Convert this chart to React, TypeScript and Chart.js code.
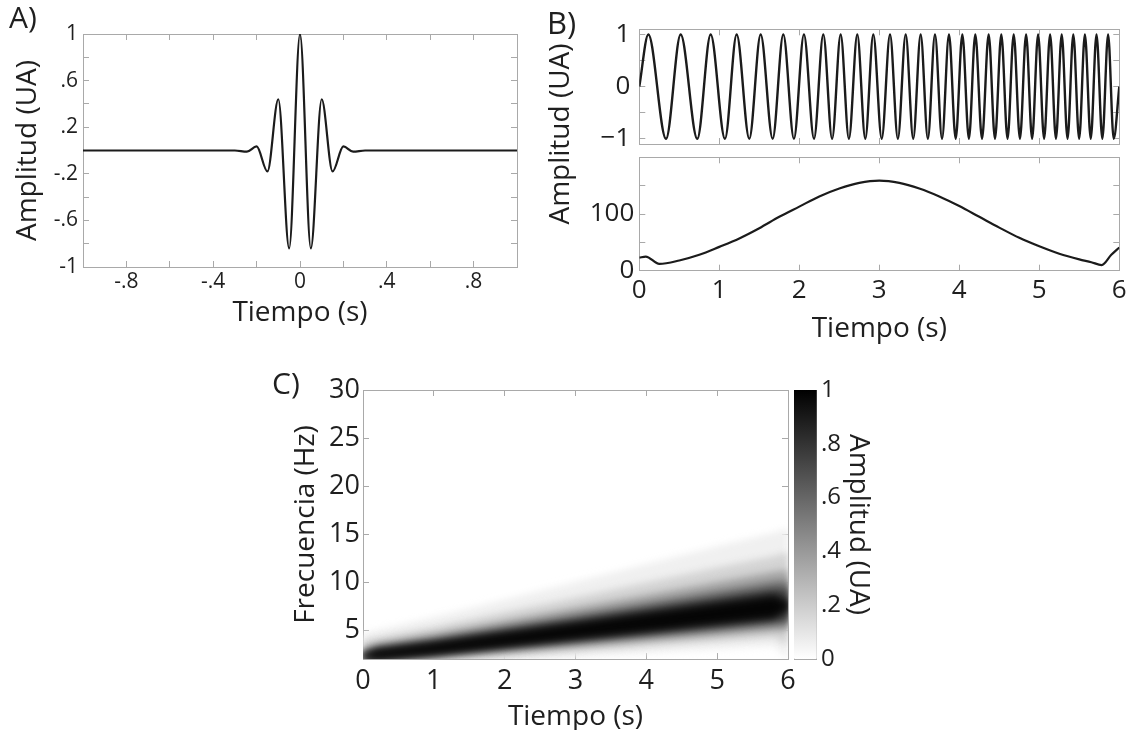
import React, { useEffect, useRef } from "react";
import { Chart, registerables } from "chart.js";

Chart.register(...registerables);

const FONT = "'Open Sans', 'DejaVu Sans', sans-serif";
const FRAME = "#a9a9a9";
const INK = "#1b1b1b";
const TEXT = "#1f1f1f";

/* ---------- Panel A : wavelet ---------- */
const waveletTime = [-1, -0.3, -0.245, -0.2, -0.15, -0.1, -0.05, 0, 0.05, 0.1, 0.15, 0.2, 0.245, 0.3, 1];
const waveletAmp = [0, 0, -0.01, 0.035, -0.18, 0.44, -0.84, 1, -0.84, 0.44, -0.18, 0.035, -0.01, 0, 0];
const aXTicks = [-1, -0.8, -0.6, -0.4, -0.2, 0, 0.2, 0.4, 0.6, 0.8, 1];
const aXLabels = ["", "-.8", "", "-.4", "", "0", "", ".4", "", ".8", ""];
const aYTicks = [-1, -0.8, -0.6, -0.4, -0.2, 0, 0.2, 0.4, 0.6, 0.8, 1];
const aYLabels = ["-1", "", "-.6", "", "-.2", "", ".2", "", ".6", "", "1"];

/* ---------- Panel B : chirp and its amplitude ---------- */
const bTimeTicks = [0, 1, 2, 3, 4, 5, 6];
const bTimeLabels = ["0", "1", "2", "3", "4", "5", "6"];
const chirpPeakTimes = [0.113, 0.517, 0.892, 1.217, 1.517, 1.8, 2.058, 2.3, 2.517, 2.725, 2.925, 3.134, 3.33, 3.517, 3.696, 3.871, 4.038, 4.2, 4.367, 4.525, 4.68, 4.835, 4.985, 5.135, 5.28, 5.425, 5.57, 5.715, 5.86];
const chirpTroughTimes = [0.334, 0.725, 1.071, 1.375, 1.667, 1.933, 2.184, 2.41, 2.62, 2.825, 3.03, 3.232, 3.424, 3.607, 3.784, 3.955, 4.12, 4.284, 4.446, 4.603, 4.758, 4.91, 5.06, 5.208, 5.353, 5.498, 5.643, 5.788, 5.93];
const chirpPeakValue = 1;
const chirpTroughValue = -1;
const chirpStart = { t: 0, v: 0 };
const chirpEnd = { t: 6, v: 0 };
const bTopYTicks = [-1, -0.5, 0, 0.5, 1];
const bTopYLabels = ["\u22121", "", "0", "", "1"];

const envTime = [0, 0.08, 0.25, 0.5, 0.75, 1, 1.25, 1.5, 1.75, 2, 2.25, 2.5, 2.75, 3, 3.25, 3.5, 3.75, 4, 4.25, 4.5, 4.75, 5, 5.25, 5.5, 5.65, 5.78, 5.9, 6];
const envAmp = [23, 25, 12, 18, 28, 42, 57, 75, 95, 113, 131, 145, 155, 159, 155, 145, 131, 114, 95, 76, 58, 43, 30, 20, 15, 10, 28, 41];
const bBotYTicks = [0, 50, 100, 150, 200];
const bBotYLabels = ["0", "", "100", "", ""];

/* ---------- Panel C : time-frequency map ---------- */
const cTimeTicks = [0, 1, 2, 3, 4, 5, 6];
const cTimeLabels = ["0", "1", "2", "3", "4", "5", "6"];
const cFreqTicks = [5, 10, 15, 20, 25, 30];
const cFreqLabels = ["5", "10", "15", "20", "25", "30"];
const bandTimes = [0, 0.2, 1, 2, 3, 4, 5, 5.8, 6];
// amplitude shade of each band (0 = white, 1 = black)
const bandShade = [0.98, 0.9, 0.75, 0.55, 0.35, 0.17, 0.06];
// upper / lower frequency limit (Hz) of the region above each amplitude level
const bandHi95 = [2.25, 2.74, 3.47, 4.48, 5.49, 6.5, 7.5, 8.29, 7.6];
const bandLo95 = [2.25, 2.16, 2.73, 3.52, 4.31, 5.1, 5.9, 6.51, 7.6];
const bandHi85 = [2.35, 2.89, 3.66, 4.72, 5.78, 6.84, 7.91, 8.73, 8.2];
const bandLo85 = [2.15, 2.06, 2.6, 3.36, 4.12, 4.87, 5.63, 6.22, 6.9];
const bandHi65 = [2.5, 3.09, 3.91, 5.04, 6.17, 7.31, 8.44, 9.32, 9.3];
const bandLo65 = [2.0, 1.94, 2.45, 3.16, 3.87, 4.58, 5.29, 5.85, 6.0];
const bandHi45 = [2.8, 3.33, 4.22, 5.44, 6.66, 7.89, 9.11, 10.06, 10.2];
const bandLo45 = [1.8, 1.79, 2.26, 2.92, 3.58, 4.23, 4.89, 5.4, 5.5];
const bandHi25 = [3.2, 3.68, 4.65, 6.0, 7.35, 8.7, 10.05, 11.1, 11.3];
const bandLo25 = [1.6, 1.62, 2.05, 2.64, 3.23, 3.83, 4.42, 4.88, 4.9];
const bandHi10 = [3.9, 4.21, 5.33, 6.88, 8.43, 9.98, 11.52, 12.73, 13.1];
const bandLo10 = [1.2, 1.4, 1.77, 2.28, 2.79, 3.31, 3.82, 4.22, 3.4];
const bandHi02 = [4.6, 5.02, 6.36, 8.2, 10.05, 11.89, 13.74, 15.17, 15.6];
const bandLo02 = [0.97, 1.1, 1.4, 1.8, 2.21, 2.61, 3.02, 3.33, 2.0];

const cbTicks = [0, 0.1, 0.2, 0.3, 0.4, 0.5, 0.6, 0.7, 0.8, 0.9, 1];
const cbLabels = ["0", "", ".2", "", ".4", "", ".6", "", ".8", "", "1"];

/* ---------- helpers ---------- */
type AxisOpts = {
  position: "left" | "right" | "top" | "bottom";
  min?: number;
  max?: number;
  ticks?: number[];
  labels?: string[];
  font?: number;
  pad?: number;
  size: number;
  tick?: number;
  title?: string;
  titleSize?: number;
  titlePad?: number;
  titleLH?: number;
  type?: string;
};

function axis(o: AxisOpts): any {
  const horizontal = o.position === "top" || o.position === "bottom";
  const cfg: any = {
    type: o.type ?? "linear",
    position: o.position,
    afterFit: (s: any) => {
      if (horizontal) s.height = o.size;
      else s.width = o.size;
      s.paddingLeft = 0;
      s.paddingRight = 0;
      s.paddingTop = 0;
      s.paddingBottom = 0;
    },
    ticks: {
      display: !!o.labels,
      autoSkip: false,
      maxRotation: 0,
      minRotation: 0,
      padding: o.pad ?? 0,
      color: TEXT,
      font: { family: FONT, size: o.font ?? 20 },
      callback: (_v: any, i: number) => (o.labels ? o.labels[i] : ""),
    },
    grid: {
      display: o.tick !== 0,
      drawOnChartArea: false,
      drawTicks: true,
      tickLength: -(o.tick ?? 6),
      color: FRAME,
      lineWidth: 1,
    },
    border: { display: true, color: FRAME, width: 1 },
    title: o.title
      ? {
          display: true,
          text: o.title,
          color: TEXT,
          font: { family: FONT, size: o.titleSize ?? 28, lineHeight: o.titleLH ?? 1.2 },
          padding: { top: o.titlePad ?? 0, bottom: o.titlePad ?? 0 },
        }
      : { display: false },
  };
  if (o.min !== undefined) cfg.min = o.min;
  if (o.max !== undefined) cfg.max = o.max;
  if (o.ticks) {
    const tv = o.ticks;
    cfg.afterBuildTicks = (s: any) => {
      s.ticks = tv.map((v) => ({ value: v }));
    };
  }
  return cfg;
}

const base = {
  responsive: false,
  maintainAspectRatio: false,
  animation: false,
  events: [],
  plugins: { legend: { display: false }, tooltip: { enabled: false } },
};

const gray = (v: number) => {
  const g = Math.round(255 * (1 - v));
  return `rgb(${g},${g},${g})`;
};

/* ---------- chart configs ---------- */
const configA = () => ({
  type: "line",
  data: {
    datasets: [
      {
        data: waveletTime.map((t, i) => ({ x: t, y: waveletAmp[i] })),
        borderColor: INK,
        borderWidth: 2.2,
        pointRadius: 0,
        cubicInterpolationMode: "monotone",
        fill: false,
      },
    ],
  },
  options: {
    ...base,
    layout: { padding: { top: 34, right: 13, left: 0, bottom: 0 } },
    scales: {
      x: axis({ position: "bottom", min: -1, max: 1, ticks: aXTicks, labels: aXLabels, font: 21, pad: 8, size: 78, title: "Tiempo (s)", titlePad: 15 }),
      x2: axis({ position: "top", min: -1, max: 1, ticks: aXTicks, size: 0 }),
      y: axis({ position: "left", min: -1, max: 1, ticks: aYTicks, labels: aYLabels, font: 21, pad: 11, size: 83, title: "Amplitud (UA)", titlePad: 11 }),
      y2: axis({ position: "right", min: -1, max: 1, ticks: aYTicks, size: 0 }),
    },
  },
});

const chirpPoints = () => {
  const pts: { x: number; y: number }[] = [{ x: chirpStart.t, y: chirpStart.v }];
  for (let i = 0; i < chirpPeakTimes.length; i++) {
    pts.push({ x: chirpPeakTimes[i], y: chirpPeakValue });
    if (i < chirpTroughTimes.length) pts.push({ x: chirpTroughTimes[i], y: chirpTroughValue });
  }
  pts.push({ x: chirpEnd.t, y: chirpEnd.v });
  return pts;
};

const configBTop = () => ({
  type: "line",
  data: {
    datasets: [
      {
        data: chirpPoints(),
        borderColor: INK,
        borderWidth: 2.4,
        pointRadius: 0,
        cubicInterpolationMode: "monotone",
        fill: false,
      },
    ],
  },
  options: {
    ...base,
    layout: { padding: { top: 29.3, right: 10.7, left: 0, bottom: 0 } },
    scales: {
      x: axis({ position: "bottom", min: 0, max: 6, ticks: bTimeTicks, size: 6 }),
      x2: axis({ position: "top", min: 0, max: 6, ticks: bTimeTicks, size: 0 }),
      y: axis({ position: "left", min: -1.1, max: 1.1, ticks: bTopYTicks, labels: bTopYLabels, font: 26, pad: 15, size: 79.3 }),
      y2: axis({ position: "right", min: -1.1, max: 1.1, ticks: bTopYTicks, size: 0 }),
    },
  },
});

const configBBot = () => ({
  type: "line",
  data: {
    datasets: [
      {
        data: envTime.map((t, i) => ({ x: t, y: envAmp[i] })),
        borderColor: INK,
        borderWidth: 2.2,
        pointRadius: 0,
        cubicInterpolationMode: "monotone",
        fill: false,
      },
    ],
  },
  options: {
    ...base,
    layout: { padding: { top: 7.3, right: 10.7, left: 0, bottom: 0 } },
    scales: {
      x: axis({ position: "bottom", min: 0, max: 6, ticks: bTimeTicks, labels: bTimeLabels, font: 26, pad: 10.7, size: 79.3, title: "Tiempo (s)", titlePad: 4 }),
      x2: axis({ position: "top", min: 0, max: 6, ticks: bTimeTicks, size: 0 }),
      y: axis({ position: "left", min: 0, max: 200, ticks: bBotYTicks, labels: bBotYLabels, font: 26, pad: 11, size: 79.3 }),
      y2: axis({ position: "right", min: 0, max: 200, ticks: bBotYTicks, size: 0 }),
    },
  },
});

const softBands = {
  id: "softBands",
  beforeDatasetsDraw(chart: any) {
    chart.ctx.save();
    chart.ctx.filter = "blur(3.5px)";
  },
  afterDatasetsDraw(chart: any) {
    chart.ctx.restore();
  },
};

const configC = () => {
  const bands = [
    { shade: bandShade[0], hi: bandHi95, lo: bandLo95 },
    { shade: bandShade[1], hi: bandHi85, lo: bandLo85 },
    { shade: bandShade[2], hi: bandHi65, lo: bandLo65 },
    { shade: bandShade[3], hi: bandHi45, lo: bandLo45 },
    { shade: bandShade[4], hi: bandHi25, lo: bandLo25 },
    { shade: bandShade[5], hi: bandHi10, lo: bandLo10 },
    { shade: bandShade[6], hi: bandHi02, lo: bandLo02 },
  ];
  const datasets: any[] = [];
  bands.forEach((b) => {
    datasets.push({
      data: bandTimes.map((t, i) => ({ x: t, y: b.hi[i] })),
      fill: "+1",
      backgroundColor: gray(b.shade),
      borderColor: "rgba(0,0,0,0)",
      borderWidth: 0,
      pointRadius: 0,
      tension: 0,
    });
    datasets.push({
      data: bandTimes.map((t, i) => ({ x: t, y: b.lo[i] })),
      fill: false,
      borderColor: "rgba(0,0,0,0)",
      borderWidth: 0,
      pointRadius: 0,
      tension: 0,
    });
  });
  return {
    type: "line",
    data: { datasets },
    plugins: [softBands],
    options: {
      ...base,
      layout: { padding: { top: 40, right: 12, left: 0, bottom: 0 } },
      scales: {
        x: axis({ position: "bottom", min: 0, max: 6, ticks: cTimeTicks, labels: cTimeLabels, font: 27, pad: 12, size: 71, title: "Tiempo (s)", titlePad: 0, titleLH: 0.95 }),
        x2: axis({ position: "top", min: 0, max: 6, ticks: cTimeTicks, size: 0 }),
        y: axis({ position: "left", min: 2, max: 30, ticks: cFreqTicks, labels: cFreqLabels, font: 27, pad: 9, size: 103, title: "Frecuencia (Hz)", titlePad: 29 }),
        y2: axis({ position: "right", min: 2, max: 30, ticks: cFreqTicks, size: 0 }),
      },
    },
  };
};

const configBar = () => ({
  type: "bar",
  data: {
    labels: ["amp"],
    datasets: [
      {
        data: [1],
        backgroundColor: (ctx: any) => {
          const a = ctx.chart.chartArea;
          if (!a) return "#888";
          const g = ctx.chart.ctx.createLinearGradient(0, a.bottom, 0, a.top);
          g.addColorStop(0, "#ffffff");
          g.addColorStop(1, "#000000");
          return g;
        },
        barPercentage: 1,
        categoryPercentage: 1,
        borderWidth: 0,
      },
    ],
  },
  options: {
    ...base,
    layout: { padding: { top: 40, right: 0, left: 4, bottom: 71 } },
    scales: {
      x: { ...axis({ position: "bottom", size: 0, tick: 0, type: "category" }) },
      x2: { ...axis({ position: "top", size: 0, tick: 0, type: "category" }), labels: ["amp"] },
      y: axis({ position: "right", min: 0, max: 1, ticks: cbTicks, labels: cbLabels, font: 24, pad: 8.3, size: 83.3, tick: 4, title: "Amplitud (UA)", titlePad: 25 }),
      y2: axis({ position: "left", min: 0, max: 1, ticks: cbTicks, size: 0, tick: 4 }),
    },
  },
});

/* ---------- components ---------- */
function ChartBox(props: { left: number; top: number; width: number; height: number; make: () => any }) {
  const ref = useRef<HTMLCanvasElement>(null);
  useEffect(() => {
    const chart = new Chart(ref.current as HTMLCanvasElement, props.make());
    return () => chart.destroy();
  }, []);
  return (
    <canvas
      ref={ref}
      width={props.width}
      height={props.height}
      style={{ position: "absolute", left: props.left, top: props.top, width: props.width, height: props.height }}
    />
  );
}

const labelStyle = (left: number, top: number, size: number): React.CSSProperties => ({
  position: "absolute",
  left,
  top,
  fontFamily: FONT,
  fontSize: size,
  lineHeight: 1,
  color: TEXT,
  whiteSpace: "nowrap",
});

export default function App() {
  return (
    <div style={{ position: "absolute", left: 0, top: 0, width: 1130, height: 730, background: "#fff", overflow: "hidden" }}>
      <ChartBox left={0} top={0} width={530} height={345} make={configA} />
      <ChartBox left={560} top={0} width={570} height={150} make={configBTop} />
      <ChartBox left={560} top={150} width={570} height={200} make={configBBot} />
      <ChartBox left={260} top={350} width={540} height={380} make={configC} />
      <ChartBox left={790} top={350} width={110} height={380} make={configBar} />
      <div style={labelStyle(9, 2, 30)}>A)</div>
      <div style={labelStyle(547, 7, 31)}>B)</div>
      <div style={labelStyle(272, 368, 30)}>C)</div>
      <div
        style={{
          ...labelStyle(557.6, 134, 28),
          transform: "translate(-50%, -50%) rotate(-90deg)",
        }}
      >
        Amplitud (UA)
      </div>
    </div>
  );
}
